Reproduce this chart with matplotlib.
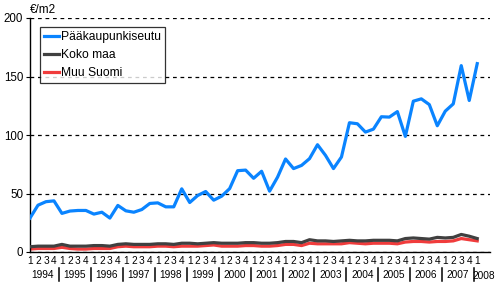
from matplotlib import pyplot as plt
import matplotlib.transforms as mtransforms
import numpy as np

plt.rcParams['font.family'] = ['Liberation Sans', 'DejaVu Sans']

# quarterly values 1994Q1 .. 2008Q1, €/m2
years = [str(y) for y in range(1994, 2009)]
quarters = ["1", "2", "3", "4"]

paakaupunkiseutu = [29, 40, 43, 43.7,
                    33, 35, 35.5, 35.5,
                    32.4, 34, 29, 39.8,
                    35.2, 34, 36.3, 41.5,
                    42, 38.6, 38.6, 54,
                    42.3, 48.3, 51.7, 44.3,
                    47.7, 54.2, 69.5, 70,
                    63, 69, 52, 64,
                    79.5, 71.3, 74, 79.8,
                    91.7, 82.6, 71.3, 81.2,
                    110.5, 109.6, 102.5, 105,
                    115.6, 115.3, 120, 98.8,
                    128.9, 130.9, 126, 107.9,
                    120.4, 126.6, 159.3, 129.5,
                    161]
koko_maa = [4.5, 5, 5, 5,
            6.5, 5, 5, 5,
            5.5, 5.5, 5, 6.5,
            7, 6.5, 6.5, 6.5,
            7, 7, 6.5, 7.5,
            7.5, 7, 7.5, 8,
            7.5, 7.5, 7.5, 8,
            8, 7.5, 7.5, 8,
            9, 9, 8, 10.5,
            9.5, 9.5, 9, 9.5,
            10, 9.5, 9.5, 10,
            10, 10, 9.5, 11.5,
            12, 11.5, 11, 12.5,
            12, 12.5, 15, 13.5,
            11.5]
muu_suomi = [2.5, 3, 3, 3,
             4, 3, 2.5, 2.5,
             3, 3, 3, 4.5,
             5, 4.5, 4.5, 4.5,
             5, 5, 4.5, 5,
             5, 5, 5.5, 6,
             5, 5, 5, 5.5,
             5.5, 5, 5, 5.5,
             6.5, 6.5, 5.5, 7.5,
             7, 7, 7, 7,
             8, 7.5, 7, 7.5,
             7.5, 7.5, 7, 8.5,
             9, 9, 8.5, 9,
             9, 9.5, 11.5, 10.5,
             9.5]

x = np.arange(len(paakaupunkiseutu))
qlabels = [quarters[i % 4] for i in x]

fig = plt.figure(figsize=(4.96, 2.83), dpi=100)
ax = fig.add_axes([30 / 496, 1 - 252 / 283, 460 / 496, 234 / 283])

ax.plot(x, paakaupunkiseutu, color='#0a84ff', lw=2.3, label='Pääkaupunkiseutu', zorder=4)
ax.plot(x, koko_maa, color='#404040', lw=2.3, label='Koko maa', zorder=3)
ax.plot(x, muu_suomi, color='#f03c3c', lw=2.3, label='Muu Suomi', zorder=2)

ax.set_xlim(0, 57.6)
ax.set_ylim(0, 200)
ax.set_yticks([0, 50, 100, 150, 200])
ax.yaxis.grid(True, linestyle=(0, (3, 3)), color='black', lw=0.9)
ax.set_axisbelow(True)
for s in ['top', 'right']:
    ax.spines[s].set_visible(False)
ax.spines['left'].set_linewidth(1)
ax.spines['bottom'].set_linewidth(1)
ax.tick_params(axis='y', length=3, width=0.8, labelsize=8.3, pad=2)
ax.tick_params(axis='x', length=0, labelsize=7.3, pad=3)
ax.set_xticks(x)
ax.set_xticklabels(qlabels)

# year labels and separators under the quarter digits
trans = mtransforms.blended_transform_factory(ax.transData, ax.transAxes)
for k, yr in enumerate(years):
    if yr == '2008':
        fig.text(495 / 496, 1 - 276 / 283, yr, ha='right', va='center', fontsize=7.3)
    else:
        ax.text(4 * k + 1.6, -0.10, yr, transform=trans, ha='center', va='center', fontsize=7.3)
    if k < len(years) - 1:
        ax.plot([4 * k + 3.62] * 2, [-0.068, -0.124], transform=trans, color='black',
                lw=1.1, clip_on=False)

fig.text(30 / 496, 1 - 10 / 283, '€/m2', fontsize=8.5, va='center', ha='left')

leg = ax.legend(loc='upper left', bbox_to_anchor=(0.022, 0.962), fontsize=8.7,
                frameon=True, fancybox=False, handlelength=1.25, handletextpad=0.1,
                borderpad=0.35, labelspacing=0.5, borderaxespad=0)
leg.get_frame().set_edgecolor('black')
leg.get_frame().set_linewidth(0.9)

plt.savefig('out.png', dpi=100)
